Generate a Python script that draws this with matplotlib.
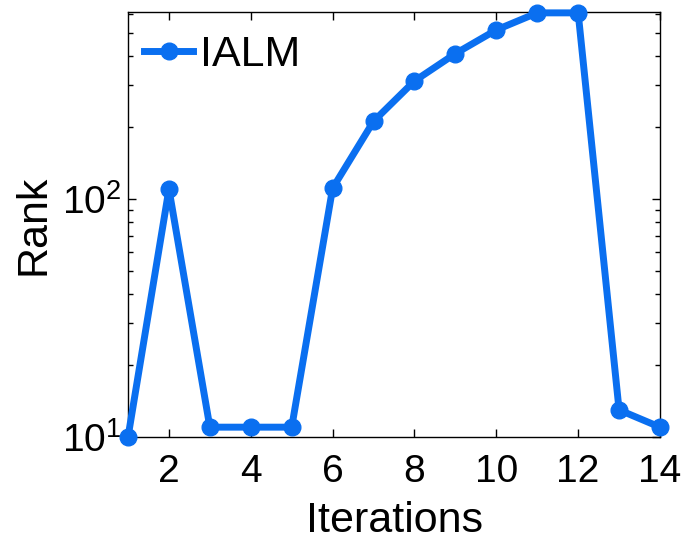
import matplotlib
matplotlib.use("Agg")
import matplotlib.pyplot as plt
from matplotlib.ticker import FixedLocator, NullFormatter

# rank per iteration (log axis)
iterations = [1, 2, 3, 4, 5, 6, 7, 8, 9, 10, 11, 12, 13, 14]
rank = [10, 110, 11, 11, 11, 111, 212, 313, 408, 513, 605, 605, 13, 11]
series_name = "IALM"
xticks = [2, 4, 6, 8, 10, 12, 14]
yticks = [10, 100]
ytick_labels = [r"$\mathregular{10^{1}}$", r"$\mathregular{10^{2}}$"]

plt.rcParams["font.family"] = ["Liberation Sans", "DejaVu Sans"]
plt.rcParams["mathtext.default"] = "regular"

blue = "#0a6ff0"
tick_fs = 28
lab_fs = 31

fig = plt.figure(figsize=(6.85, 5.41), dpi=100)
ax = fig.add_axes([0.1869, 0.1922, 0.9635 - 0.1869, 0.9778 - 0.1922])
ax.set_yscale("log")
ax.plot(iterations, rank, color=blue, lw=5, marker="o", ms=12,
        label=series_name, clip_on=False, zorder=3)

ax.set_xlim(1, 14)
ax.set_ylim(10, 610)
ax.set_xticks(xticks)
ax.set_xticklabels([str(t) for t in xticks])
ax.yaxis.set_major_locator(FixedLocator(yticks))
ax.set_yticklabels(ytick_labels)
ax.yaxis.set_minor_locator(FixedLocator([20, 30, 40, 50, 60, 70, 80, 90,
                                         200, 300, 400, 500, 600]))
ax.yaxis.set_minor_formatter(NullFormatter())

ax.tick_params(which="both", direction="in", top=True, right=True,
               width=1.0, color="black")
ax.tick_params(which="major", length=6)
ax.tick_params(which="minor", length=3.5)
ax.tick_params(axis="x", which="major", labelsize=tick_fs, pad=12)
ax.tick_params(axis="y", which="major", labelsize=tick_fs, pad=5)
for s in ax.spines.values():
    s.set_linewidth(1.0)

ax.set_xlabel("Iterations", fontsize=lab_fs, labelpad=8)
ax.set_ylabel("Rank", fontsize=lab_fs, labelpad=6)

ax.legend(loc="upper left", bbox_to_anchor=(0.03, 0.946), frameon=False,
          fontsize=lab_fs, borderpad=0, borderaxespad=0, handlelength=1.14,
          handletextpad=0.15, markerscale=1.0)

fig.savefig("out.png", dpi=100)
